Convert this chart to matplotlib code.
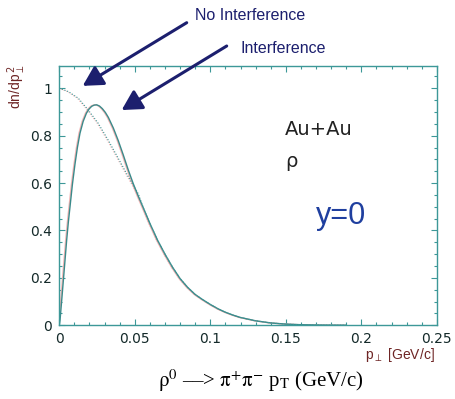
import numpy as np
import matplotlib
matplotlib.use("Agg")
import matplotlib.pyplot as plt
from matplotlib.ticker import MultipleLocator
import matplotlib.transforms as mtransforms

# ------------------------------------------------------------
# datos (dn/dp_perp^2 vs p_perp, Au+Au rho, y=0)
# ------------------------------------------------------------
pt_interf = [0.0, 0.0005, 0.0016, 0.0027, 0.0038, 0.0049, 0.006, 0.0071, 0.0087, 0.0104,
             0.012, 0.0137, 0.0158, 0.018, 0.0198, 0.0215, 0.0232, 0.0248, 0.0266,
             0.0285, 0.0305, 0.0325, 0.0358, 0.039, 0.0423, 0.0457, 0.049, 0.0523]
dn_interf = [0.0, 0.022, 0.105, 0.19, 0.275, 0.36, 0.435, 0.50, 0.595, 0.68,
             0.75, 0.81, 0.86, 0.895, 0.913, 0.924, 0.929, 0.93, 0.925,
             0.914, 0.898, 0.877, 0.832, 0.78, 0.72, 0.655, 0.597, 0.545]

pt_nointerf = [0.0, 0.006, 0.0126, 0.0192, 0.0258, 0.0325, 0.039, 0.0457, 0.0523]
dn_nointerf = [1.0, 0.986, 0.958, 0.908, 0.852, 0.78, 0.705, 0.627, 0.555]

# cola comun (las dos curvas coinciden)
pt_tail = [0.056, 0.06, 0.065, 0.07, 0.075, 0.08, 0.085, 0.09, 0.095, 0.10, 0.105,
           0.11, 0.115, 0.12, 0.13, 0.14, 0.15, 0.16, 0.17, 0.18, 0.19]
dn_tail = [0.49, 0.43, 0.36, 0.30, 0.245, 0.197, 0.16, 0.13, 0.108, 0.088, 0.07,
           0.055, 0.043, 0.033, 0.019, 0.01, 0.005, 0.0025, 0.0012, 0.0006, 0.0003]

xticks = [0, 0.05, 0.1, 0.15, 0.2, 0.25]
xlabels = ["0", "0.05", "0.1", "0.15", "0.2", "0.25"]
yticks = [0, 0.2, 0.4, 0.6, 0.8, 1.0]
ylabels = ["0", "0.2", "0.4", "0.6", "0.8", "1"]

x_int = np.array(pt_interf + pt_tail)
y_int = np.array(dn_interf + dn_tail)
x_no = np.array(pt_nointerf + pt_tail)
y_no = np.array(dn_nointerf + dn_tail)

TEAL = "#3d9898"
PINK = "#f2b3b3"
NAVY = "#1c1f6e"
DKRED = "#6e2525"

fig = plt.figure(figsize=(4.56, 3.99), dpi=100)
ax = fig.add_axes([0.130, 0.1847, 0.828, 0.650])

# sombra rosa ligeramente desplazada (como en la imagen original)
sh = mtransforms.offset_copy(ax.transData, fig=fig, x=-0.7, y=0, units="points")
ax.plot(x_int, y_int, color=PINK, lw=1.0, transform=sh)
ax.plot(x_no, y_no, color=PINK, lw=0.8, ls=(0, (1, 1.5)), transform=sh)
ax.plot(x_int, y_int, color="#3a8a8a", lw=1.0)
ax.plot(x_no, y_no, color=TEAL, lw=0.8, ls=(0, (1, 1.5)))

ax.set_xlim(0, 0.25)
ax.set_ylim(0, 1.094)
ax.set_xticks(xticks)
ax.set_xticklabels(xlabels)
ax.set_yticks(yticks)
ax.set_yticklabels(ylabels)
ax.xaxis.set_minor_locator(MultipleLocator(0.01))
ax.yaxis.set_minor_locator(MultipleLocator(0.05))
ax.tick_params(which="both", direction="in", top=True, right=True, color=TEAL,
               labelcolor="#142a2a", labelsize=10)
ax.tick_params(which="major", length=4.5, width=0.8, pad=5)
ax.tick_params(which="minor", length=2.5, width=0.8)
for s in ax.spines.values():
    s.set_color(TEAL); s.set_linewidth(1.0)

# etiquetas de ejes al estilo ROOT
fig.text(17/456, 1 - 64/399, r"dn/dp$_{\perp}^{\,2}$", rotation=90, ha="center", va="top",
         color=DKRED, fontsize=10, family="Liberation Sans")
fig.text(435/456, 1 - 355/399, r"p$_{\perp}$ [GeV/c]", ha="right", va="center",
         color=DKRED, fontsize=10, family="Liberation Sans")

# textos dentro del panel
fig.text(285/456, 1 - 129.5/399, "Au+Au", ha="left", va="center", color="#222222",
         fontsize=14, family="DejaVu Sans")
fig.text(285/456, 1 - 167/399, "ρ", ha="left", va="baseline", color="#222222",
         fontsize=14, family="DejaVu Sans")
fig.text(341/456, 1 - 216/399, "y=0", ha="center", va="center", color="#1f3f9f",
         fontsize=22, family="Liberation Sans")

# flechas y anotaciones
fig.text(195/456, 1 - 15.7/399, "No Interference", ha="left", va="center", color=NAVY,
         fontsize=11.5, family="Liberation Sans")
fig.text(240.7/456, 1 - 48.3/399, "Interference", ha="left", va="center", color=NAVY,
         fontsize=11.5, family="Liberation Sans")
arr = dict(arrowstyle="-|>,head_length=0.6,head_width=0.33", color=NAVY, lw=2.2,
           mutation_scale=20, shrinkA=0, shrinkB=0)
ax.annotate("", xy=(0.0155, 1.01), xytext=(186.7, 399 - 22.7), textcoords="figure pixels",
            arrowprops=arr, annotation_clip=False)
ax.annotate("", xy=(0.0413, 0.908), xytext=(226.7, 399 - 46), textcoords="figure pixels",
            arrowprops=arr, annotation_clip=False)

# pie de figura
plt.rcParams["mathtext.fontset"] = "stix"
fig.text(261/456, 1 - 381/399,
         r"$\mathrm{\rho}^{0}$ ––> $\mathrm{\pi}^{+}\mathrm{\pi}^{-}$ p$_{\mathrm{T}}$ (GeV/c)",
         ha="center", va="center", color="black", fontsize=15, family="Liberation Serif")

fig.savefig("out.png", dpi=100, facecolor="white")
